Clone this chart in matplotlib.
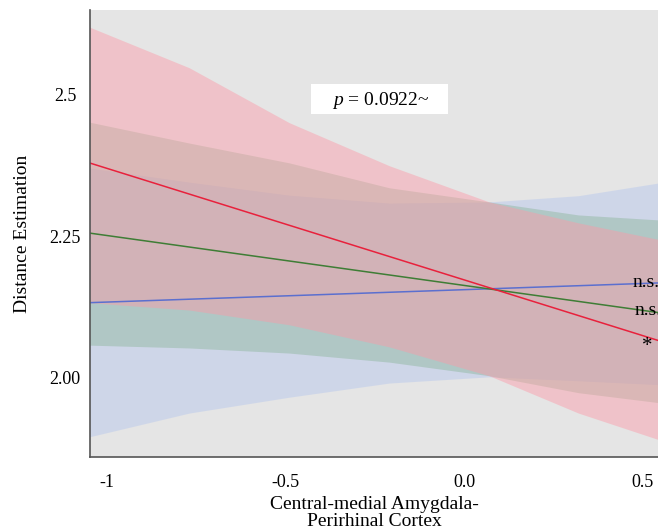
import numpy as np
import matplotlib.pyplot as plt
from matplotlib.patches import Rectangle

plt.rcParams['font.family'] = ['Liberation Serif', 'DejaVu Serif']
plt.rcParams['mathtext.fontset'] = 'custom'
plt.rcParams['mathtext.it'] = 'Liberation Serif:italic'
plt.rcParams['mathtext.rm'] = 'Liberation Serif'

# x positions where the confidence bands were read
band_x = [-1.05, -0.77, -0.49, -0.21, 0.07, 0.32, 0.55]

red_upper = [2.620, 2.548, 2.451, 2.375, 2.311, 2.274, 2.244]
red_lower = [2.133, 2.120, 2.094, 2.055, 2.004, 1.938, 1.890]
green_upper = [2.452, 2.415, 2.380, 2.336, 2.311, 2.288, 2.279]
green_lower = [2.058, 2.053, 2.044, 2.028, 2.004, 1.974, 1.956]
blue_upper = [2.371, 2.346, 2.323, 2.309, 2.311, 2.322, 2.345]
blue_lower = [1.896, 1.938, 1.966, 1.991, 2.002, 1.995, 1.988]

# fitted lines (end points)
line_x = [-1.05, 0.55]
red_line = [2.380, 2.065]
green_line = [2.256, 2.115]
blue_line = [2.133, 2.168]

xticks = [-1, -0.5, 0.0, 0.5]
xtick_labels = ["-1", "-0.5", "0.0", "0.5"]
yticks = [2.00, 2.25, 2.5]
ytick_labels = ["2.00", "2.25", "2.5"]

fig = plt.figure(figsize=(6.58, 5.29), dpi=100)
ax = fig.add_axes([90/658, 1-457/529, 1-90/658, (457-10)/529])
ax.set_facecolor('#e5e5e5')

ax.fill_between(band_x, blue_lower, blue_upper, color='#9cb6f2', alpha=0.3, lw=0)
ax.fill_between(band_x, green_lower, green_upper, color='#79ac85', alpha=0.35, lw=0)
ax.fill_between(band_x, red_lower, red_upper, color='#fd99a7', alpha=0.45, lw=0)

ax.plot(line_x, blue_line, color='#5b6fcf', lw=1.1)
ax.plot(line_x, green_line, color='#3e7d35', lw=1.1)
ax.plot(line_x, red_line, color='#e8213c', lw=1.1)

ax.set_xlim(-1.048, 0.543)
ax.set_ylim(1.8604, 2.650)

ax.set_xticks(xticks)
ax.set_xticklabels(xtick_labels, fontsize=13)
ax.set_yticks(yticks)
ax.set_yticklabels(ytick_labels, fontsize=13, ha='center')
ax.tick_params(length=0)
ax.tick_params(axis='x', pad=12)
ax.tick_params(axis='y', pad=18)

for s in ['top', 'right']:
    ax.spines[s].set_visible(False)
for s in ['left', 'bottom']:
    ax.spines[s].set_color('#555555')
    ax.spines[s].set_linewidth(1.2)

ax.set_xlabel("Central-medial Amygdala-\nPerirhinal Cortex", fontsize=14,
              labelpad=4, linespacing=1.0)
ax.set_ylabel("Distance Estimation", fontsize=14, va='center')
ax.yaxis.set_label_coords(-0.1197, 0.5)

# white label box
ax.add_patch(Rectangle(((311-90)/568, 1-(114-10)/447), 137/568, 30/447,
                       transform=ax.transAxes, fc='white', ec='none', zorder=3))
ax.text(-0.235, 2.491, r"$p$ = 0.0922~", fontsize=14, ha='center', va='center',
        zorder=4)

ax.text(0.472, 2.168, "n.s.", fontsize=14, va='center', clip_on=False)
ax.text(0.478, 2.120, "n.s.", fontsize=14, va='center', clip_on=False)
ax.text(0.497, 2.056, "*", fontsize=15, va='center', clip_on=False)

fig.savefig("out.png", dpi=100)
